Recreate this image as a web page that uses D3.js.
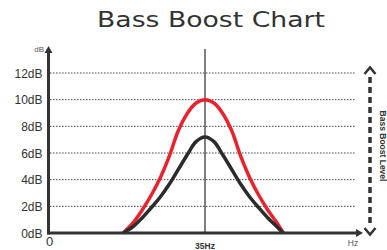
<!DOCTYPE html>
<html><head><meta charset="utf-8">
<script src="https://cdn.jsdelivr.net/npm/d3@7"></script>
<style>body{margin:0;background:#fff}svg{display:block}</style>
</head><body>
<script>
const title = "Bass Boost Chart";
const yTicks = [0, 2, 4, 6, 8, 10, 12];
const yTickLabels = ["0dB","2dB","4dB","6dB","8dB","10dB","12dB"];
const centerFreq = 35;
const xLabels = ["0", "35Hz"];
const freqs =      [16.7, 19, 21, 23, 25, 27, 29, 31, 33, 35, 37, 39, 41, 43, 45, 47, 49, 51, 52.5];
const redBoost =   [0, 0.8, 1.75, 2.85, 4.15, 5.75, 7.65, 8.95, 9.75, 10, 9.75, 8.95, 7.65, 5.75, 4.15, 2.85, 1.75, 0.8, 0];
const blackBoost = [0, 0.5, 1.15, 1.9, 2.7, 3.65, 4.75, 5.85, 6.85, 7.2, 6.85, 5.85, 4.75, 3.65, 2.7, 1.9, 1.15, 0.5, 0];

const W = 387, H = 250;
const svg = d3.select("body").append("svg").attr("width", W).attr("height", H);
const x = d3.scaleLinear().domain([0, 35]).range([48.5, 205]);
const y = d3.scaleLinear().domain([0, 12]).range([233, 73]);
const dark = "#333";

svg.append("text").attr("x", 211).attr("y", 27).attr("text-anchor", "middle")
  .attr("font-family", "DejaVu Sans").attr("font-size", 22).attr("fill", "#333")
  .attr("textLength", 228).attr("lengthAdjust", "spacingAndGlyphs").text(title);

// grid lines
svg.append("g").selectAll("line").data(yTicks.filter(d => d > 0)).join("line")
  .attr("x1", 50).attr("x2", 356).attr("y1", d => y(d)).attr("y2", d => y(d))
  .attr("stroke", "#444").attr("stroke-width", 1).attr("stroke-dasharray", "1.5,1.5");

// y axis (labels via d3 axis)
const yAxis = d3.axisLeft(y).tickValues(yTicks).tickFormat((d, i) => yTickLabels[i]).tickSize(0).tickPadding(6);
const gy = svg.append("g").attr("transform", "translate(48.5,0)").call(yAxis);
gy.select(".domain").remove();
gy.selectAll("text").attr("font-family", "Liberation Sans, Arial").attr("font-size", 12).attr("fill", "#333")
  .attr("dy", "0.35em");

// center vertical line
svg.append("line").attr("x1", x(centerFreq)).attr("x2", x(centerFreq)).attr("y1", 49).attr("y2", 233)
  .attr("stroke", "#555").attr("stroke-width", 1.5);

// curves
const line = d3.line().x((d, i) => x(freqs[i])).y(d => y(d)).curve(d3.curveCatmullRom);
svg.append("path").datum(redBoost).attr("d", line).attr("fill", "none")
  .attr("stroke", "#e8232d").attr("stroke-width", 3.5).attr("stroke-linejoin", "round");
svg.append("path").datum(blackBoost).attr("d", line).attr("fill", "none")
  .attr("stroke", "#2b2b2b").attr("stroke-width", 3.5).attr("stroke-linejoin", "round");

// axes lines
svg.append("line").attr("x1", 48.5).attr("x2", 48.5).attr("y1", 234.5).attr("y2", 52)
  .attr("stroke", dark).attr("stroke-width", 3);
svg.append("path").attr("d", "M48.5,46 L44.5,53 L52.5,53 Z").attr("fill", dark);
svg.append("line").attr("x1", 47).attr("x2", 357).attr("y1", 233).attr("y2", 233)
  .attr("stroke", dark).attr("stroke-width", 3);
svg.append("path").attr("d", "M363,233 L356,229 L356,237 Z").attr("fill", dark);

svg.append("text").attr("x", 44).attr("y", 52).attr("text-anchor", "end")
  .attr("font-family", "Liberation Sans, Arial").attr("font-size", 8).attr("fill", "#555").text("dB");
svg.append("text").attr("x", x(0) + 1).attr("y", 246).attr("text-anchor", "middle")
  .attr("font-family", "Liberation Sans, Arial").attr("font-size", 13).attr("fill", "#333").text(xLabels[0]);
svg.append("text").attr("x", x(centerFreq)).attr("y", 248.5).attr("text-anchor", "middle")
  .attr("font-family", "Liberation Sans, Arial").attr("font-size", 8.5).attr("font-weight", "bold").attr("fill", "#333").text(xLabels[1]);
svg.append("text").attr("x", 353).attr("y", 246).attr("text-anchor", "middle")
  .attr("font-family", "Liberation Sans, Arial").attr("font-size", 8.5).attr("fill", "#555").text("Hz");

// right dashed double arrow
svg.append("line").attr("x1", 370).attr("x2", 370).attr("y1", 77).attr("y2", 226)
  .attr("stroke", dark).attr("stroke-width", 3.5).attr("stroke-dasharray", "6,4");
svg.append("path").attr("d", "M364.5,74 L370,67.5 L375.5,74").attr("fill", "none")
  .attr("stroke", dark).attr("stroke-width", 2.5);
svg.append("path").attr("d", "M364.5,228 L370,234.5 L375.5,228").attr("fill", "none")
  .attr("stroke", dark).attr("stroke-width", 2.5);
svg.append("text").attr("transform", "translate(380,146) rotate(90)").attr("text-anchor", "middle")
  .attr("font-family", "Liberation Sans, Arial").attr("font-size", 8.5).attr("font-weight", "bold")
  .attr("fill", "#333").text("Bass Boost Level");
</script>
</body></html>
